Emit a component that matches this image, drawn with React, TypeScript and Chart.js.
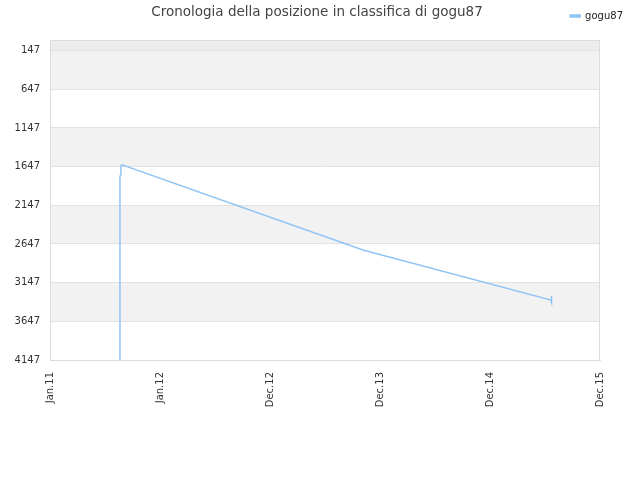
import { useEffect, useRef } from "react"
import { Chart, registerables, type ChartConfiguration, type Plugin } from "chart.js"

Chart.register(...registerables)

// x positions are measured in label slots (0 = Jan.11 ... 5 = Dec.15)
const xLabels = ["Jan.11", "Jan.12", "Dec.12", "Dec.13", "Dec.14", "Dec.15"]
const xPositions = [0.636, 0.636, 0.645, 0.645, 0.655, 2.845, 4.554, 4.559, 4.559]
const ranks = [4147, 1769, 1756, 1640, 1623, 2725, 3372, 3398, 3320]
const rankTicks = [147, 647, 1147, 1647, 2147, 2647, 3147, 3647, 4147]

const TITLE = "Cronologia della posizione in classifica di gogu87"
const FONT = "'DejaVu Sans', sans-serif"

// alternating bands behind the grid + frame
const bandsPlugin: Plugin = {
  id: "bands",
  beforeDraw(chart) {
    const { ctx, chartArea } = chart
    const y = chart.scales.y
    ctx.save()
    // strip above the first tick
    ctx.fillStyle = "#ececec"
    const firstTop = y.getPixelForValue(rankTicks[0])
    ctx.fillRect(chartArea.left, chartArea.top, chartArea.width, firstTop - chartArea.top)
    ctx.fillStyle = "#f2f2f2"
    for (let i = 0; i < rankTicks.length - 1; i += 2) {
      const a = y.getPixelForValue(rankTicks[i])
      const b = y.getPixelForValue(rankTicks[i + 1])
      ctx.fillRect(chartArea.left, a, chartArea.width, b - a)
    }
    ctx.restore()
  },
  afterDraw(chart) {
    const { ctx, chartArea } = chart
    ctx.save()
    ctx.strokeStyle = "#dcdcdc"
    ctx.lineWidth = 1
    ctx.strokeRect(chartArea.left + 0.5, chartArea.top + 0.5, chartArea.width - 1, chartArea.height)
    ctx.fillStyle = "#444"
    ctx.font = `13.5px ${FONT}`
    ctx.textAlign = "center"
    ctx.textBaseline = "middle"
    ctx.fillText(TITLE, 317, 12)
    ctx.restore()
  },
}

export default function App() {
  const canvasRef = useRef<HTMLCanvasElement>(null)

  useEffect(() => {
    if (!canvasRef.current) return
    const data = xPositions.map((x, i) => ({ x, y: ranks[i] }))

    const config: ChartConfiguration<"line"> = {
      type: "line",
      data: {
        datasets: [
          {
            label: "gogu87",
            data,
            borderColor: "rgb(144, 196, 245)",
            backgroundColor: "rgb(144, 196, 245)",
            borderWidth: 1.5,
            pointRadius: 0,
            tension: 0,
          },
        ],
      },
      options: {
        animation: false,
        responsive: true,
        maintainAspectRatio: false,
        layout: { padding: { top: 1, left: 0, right: 7, bottom: 0 } },
        scales: {
          x: {
            type: "linear",
            min: 0,
            max: xLabels.length - 1,
            afterFit: (scale) => {
              scale.height = 120
            },
            ticks: {
              stepSize: 1,
              minRotation: 90,
              maxRotation: 90,
              padding: 4,
              color: "#333",
              font: { family: FONT, size: 10 },
              callback: (v) => xLabels[Number(v)] ?? "",
            },
            grid: { display: false },
            border: { color: "#dcdcdc" },
          },
          topGap: {
            type: "linear",
            position: "top",
            display: true,
            afterFit: (scale) => {
              scale.height = 9
            },
            ticks: { display: false },
            grid: { display: false },
            border: { display: false },
          },
          y: {
            reverse: true,
            min: 10,
            max: 4147,
            afterFit: (scale) => {
              scale.width = 50
            },
            afterBuildTicks: (scale) => {
              scale.ticks = rankTicks.map((value) => ({ value }))
            },
            ticks: {
              padding: 10,
              color: "#333",
              font: { family: FONT, size: 10 },
              callback: (v) => String(v),
            },
            grid: { color: "#e2e2e2", drawTicks: false },
            border: { color: "#dcdcdc" },
          },
          right: {
            position: "right",
            display: true,
            afterFit: (scale) => {
              scale.width = 33
            },
            ticks: { display: false },
            grid: { display: false },
            border: { display: false },
          },
        },
        plugins: {
          title: { display: false },
          tooltip: { enabled: false },
          legend: {
            position: "top",
            align: "end",
            labels: {
              boxWidth: 10,
              boxHeight: 2,
              padding: 10,
              color: "#222",
              font: { family: FONT, size: 10 },
            },
          },
        },
      },
      plugins: [bandsPlugin],
    }

    const chart = new Chart(canvasRef.current, config)
    return () => chart.destroy()
  }, [])

  return (
    <div style={{ position: "fixed", left: 0, top: 0, width: 640, height: 480 }}>
      <canvas ref={canvasRef} />
    </div>
  )
}
